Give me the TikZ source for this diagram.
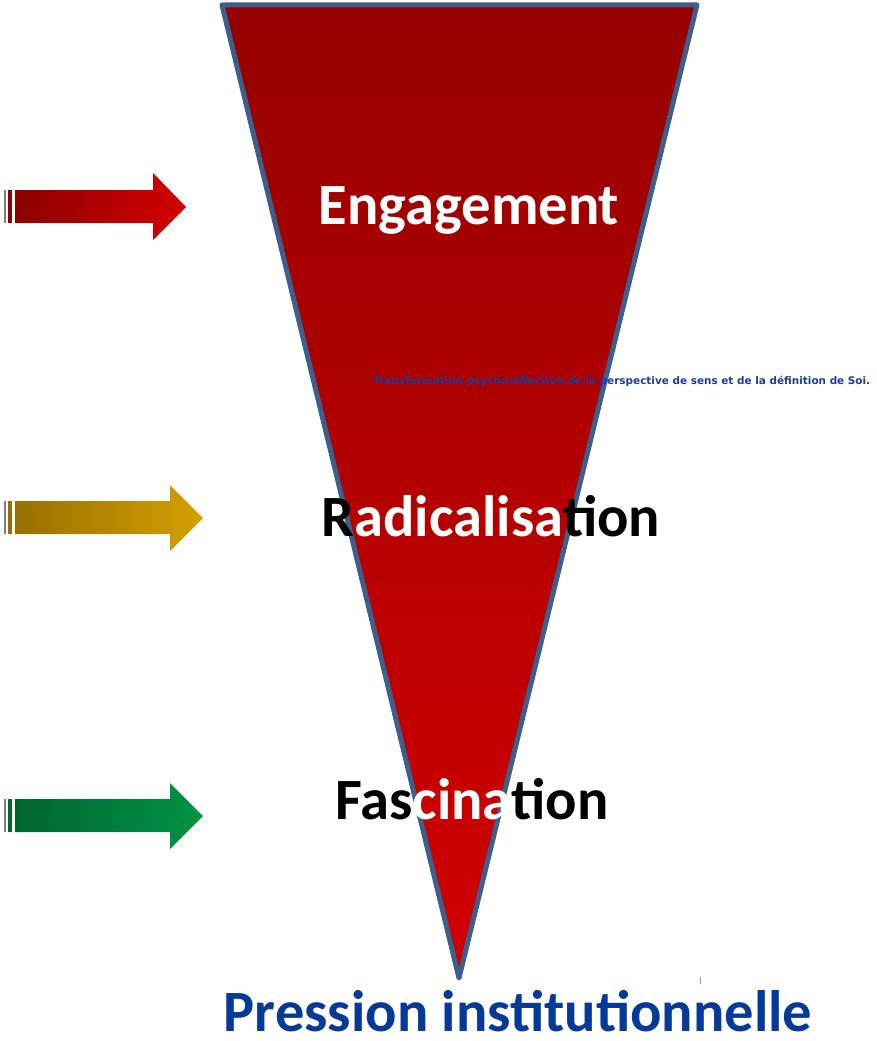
\documentclass[tikz,border=0pt]{standalone}
\usepackage{fontspec}
\setmainfont{Carlito}
\newfontfamily\notefont{DejaVu Sans}
\definecolor{tritop}{HTML}{960000}
\definecolor{tribot}{HTML}{D20000}
\definecolor{triedge}{HTML}{3C5F8C}
\definecolor{pressblue}{HTML}{053A98}
\definecolor{noteblue}{HTML}{1A3C9A}
\definecolor{redleft}{HTML}{8C0000}
\definecolor{redright}{HTML}{D40000}
\definecolor{goldleft}{HTML}{987000}
\definecolor{goldright}{HTML}{D4A000}
\definecolor{greenleft}{HTML}{006630}
\definecolor{greenright}{HTML}{009444}
\tikzset{
	stage/.style={font=\fontsize{58.5}{58.5}\selectfont\bfseries, anchor=base, inner sep=0},
}
\begin{document}
\begin{tikzpicture}[x=1pt,y=-1pt]
			\useasboundingbox (0,0) rectangle (877,1041);
			
			% funnel
			\shade[top color=tritop, bottom color=tribot] (222,5) -- (697,5) -- (459,978) -- cycle;
			\draw[triedge, line width=5pt, line join=round] (222,5) -- (697,5) -- (459,978) -- cycle;
			
			% arrows
			\shade[left color=redleft, right color=redright] (15,190) -- (153,190) -- (153,173) -- (186,207) -- (153,240) -- (153,223) -- (15,223) -- cycle;
			\fill[redleft] (8,190) rectangle (12,223);
			\fill[gray] (4,190) rectangle (5.5,223);
			
			\shade[left color=goldleft, right color=goldright] (15,501) -- (170,501) -- (170,485) -- (203,518) -- (170,551) -- (170,534) -- (15,534) -- cycle;
			\fill[goldleft] (8,501) rectangle (12,534);
			\fill[gray] (4,501) rectangle (5.5,534);
			
			\shade[left color=greenleft, right color=greenright] (15,799) -- (170,799) -- (170,783) -- (203,816) -- (170,849) -- (170,832) -- (15,832) -- cycle;
			\fill[greenleft] (8,799) rectangle (12,832);
			\fill[gray] (4,799) rectangle (5.5,832);
			
			% labels
			\node[stage, white] (eng) at (469,224) {Engagement};
			\node[stage, white] (rad) at (491,536) {{\color{black}R}adicalisa{\color{black}tion}};
			\node[stage, white] (fas) at (472,819) {{\color{black}Fas}cina{\color{black}tion}};
			\node[anchor=west, inner sep=0, text=noteblue, font=\notefont\fontsize{10.45}{10.45}\selectfont\bfseries] (note) at (373,381) {Transformation psycho-affective de la perspective de sens et de la définition de Soi.};
			\node[stage, pressblue] (press) at (518,1031) {Pression institutionnelle};
			
			\draw[triedge!60, line width=1pt] (700,977) -- (700,984);
		\end{tikzpicture}
\end{document}
